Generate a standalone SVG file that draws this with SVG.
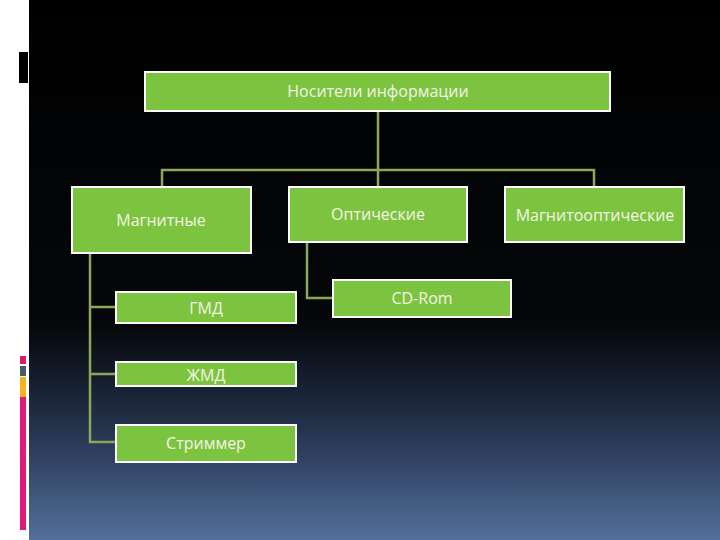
<svg xmlns="http://www.w3.org/2000/svg" width="720" height="540" viewBox="0 0 720 540">
<defs>
<linearGradient id="bg" x1="0" y1="0" x2="0" y2="1">
<stop offset="0" stop-color="#000"/><stop offset="0.6" stop-color="#05070a"/><stop offset="0.8" stop-color="#26344f"/><stop offset="1" stop-color="#536f9c"/>
</linearGradient>
<style>
.b{fill:#7cc440;stroke:#fff;stroke-width:2}
.t{font-family:"Open Sans","Liberation Sans",sans-serif;font-size:16px;fill:#f4f4e4;text-anchor:middle}
.c{fill:none;stroke:#8aa85a;stroke-width:2.5}
</style>
</defs>
<rect width="720" height="540" fill="url(#bg)"/>
<rect width="29" height="540" fill="#fff"/>
<rect x="17" y="52" width="11" height="31" fill="#000"/>
<rect x="17" y="52" width="2" height="31" fill="#fff"/>
<rect x="20" y="356" width="6" height="8" fill="#d81b6a"/>
<rect x="20" y="366" width="6" height="10" fill="#4a5a66"/>
<rect x="20" y="377" width="6" height="20" fill="#f2b51c"/>
<rect x="20" y="397" width="6" height="133" fill="#e0197a"/>
<g id="connectors" class="c">
<path d="M378 111V187M162 187V170H594V187"/>
<path d="M90 253V442H116M90 307H116M90 374H116"/>
<path d="M307 242V298H333"/>
</g>
<g id="root"><rect class="b" x="145" y="72" width="465" height="39"/><text class="t" x="378" y="97">Носители информации</text></g>
<g id="magn"><rect class="b" x="72" y="187" width="179" height="66"/><text class="t" x="161" y="226">Магнитные</text></g>
<g id="opt"><rect class="b" x="289" y="187" width="178" height="55"/><text class="t" x="378" y="220">Оптические</text></g>
<g id="mo"><rect class="b" x="505" y="187" width="179" height="55"/><text class="t" x="595" y="221">Магнитооптические</text></g>
<g id="cd"><rect class="b" x="333" y="280" width="178" height="37"/><text class="t" x="422" y="304">CD-Rom</text></g>
<g id="gmd"><rect class="b" x="116" y="292" width="180" height="31"/><text class="t" x="206" y="314">ГМД</text></g>
<g id="zhmd"><rect class="b" x="116" y="362" width="180" height="24"/><text class="t" x="206" y="381">ЖМД</text></g>
<g id="str"><rect class="b" x="116" y="425" width="180" height="37"/><text class="t" x="206" y="449">Стриммер</text></g>
</svg>
